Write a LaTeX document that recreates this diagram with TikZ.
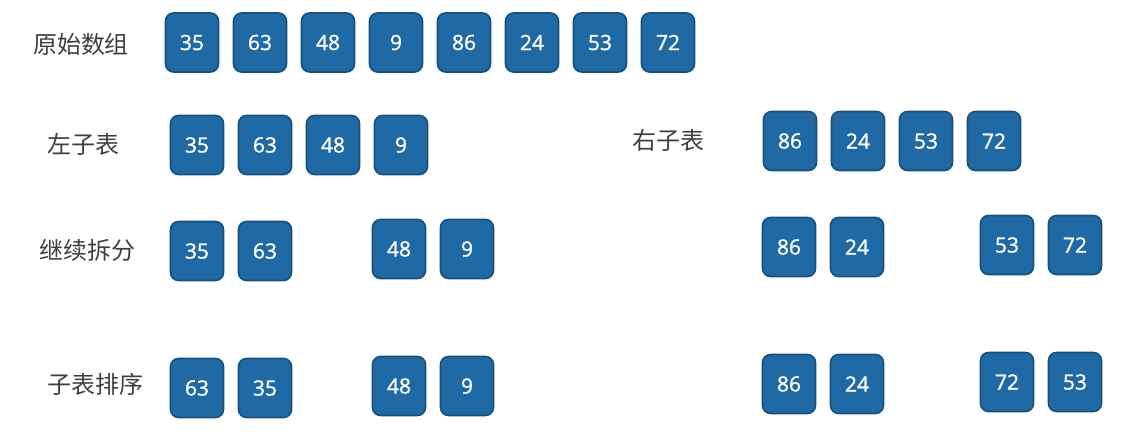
\documentclass[tikz,border=0pt]{standalone}
\usepackage{fontspec}
\newfontfamily\numfont{Open Sans}[FakeBold=1.2]
\newfontfamily\cjk{Noto Sans CJK SC}
\definecolor{boxfill}{HTML}{1F69A4}
\definecolor{boxedge}{HTML}{17507D}
\definecolor{lbl}{HTML}{3F3F3F}
\begin{document}
\begin{tikzpicture}[x=1pt,y=-1pt,
  cell/.style={draw=boxedge,fill=boxfill,line width=1.6pt,rounded corners=8pt,
    minimum width=53pt,minimum height=59pt,inner sep=0pt,
    text=white,font=\numfont\fontsize{21}{21}\selectfont},
  lab/.style={text=lbl,font=\cjk\fontsize{24}{24}\selectfont,inner sep=0pt}]
\useasboundingbox (0,0) rectangle (1141,447);
% labels
\node[lab] (l1) at (81,44) {原始数组};
\node[lab] (l2) at (83,144) {左子表};
\node[lab] (l3) at (668,140) {右子表};
\node[lab] (l4) at (87,250) {继续拆分};
\node[lab] (l5) at (95,384) {子表排序};
% row 1
\foreach \v/\x [count=\i] in {35/192,63/260,48/328,9/396,86/464,24/532,53/600,72/668}
  \node[cell] (a\i) at (\x,42.5) {\v};
% row 2
\foreach \v/\x [count=\i] in {35/197,63/265,48/333,9/401}
  \node[cell] (b\i) at (\x,145) {\v};
\foreach \v/\x [count=\i] in {86/790,24/858,53/926,72/994}
  \node[cell] (c\i) at (\x,141) {\v};
% row 3
\node[cell] (d1) at (197,251) {35};
\node[cell] (d2) at (265,251) {63};
\node[cell] (d3) at (399,249) {48};
\node[cell] (d4) at (467,249) {9};
\node[cell] (d5) at (789,247) {86};
\node[cell] (d6) at (857,247) {24};
\node[cell] (d7) at (1007,245) {53};
\node[cell] (d8) at (1075,245) {72};
% row 4
\node[cell] (e1) at (197,388) {63};
\node[cell] (e2) at (265,388) {35};
\node[cell] (e3) at (399,386) {48};
\node[cell] (e4) at (467,386) {9};
\node[cell] (e5) at (789,384) {86};
\node[cell] (e6) at (857,384) {24};
\node[cell] (e7) at (1007,382) {72};
\node[cell] (e8) at (1075,382) {53};
\end{tikzpicture}
\end{document}
